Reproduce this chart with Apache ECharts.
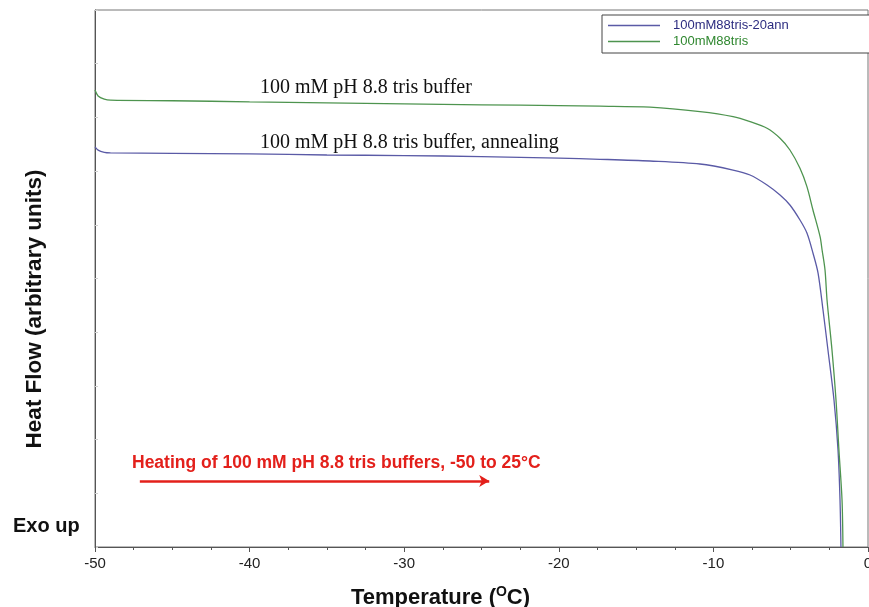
<!DOCTYPE html>
<html>
<head>
<meta charset="utf-8">
<script src="https://cdn.jsdelivr.net/npm/echarts@6/dist/echarts.min.js"></script>
<style>
html,body{margin:0;padding:0;background:#fff;}
#chart{width:869px;height:607px;}
</style>
</head>
<body>
<div id="chart"></div>
<script>
// DSC heating scans of 100 mM pH 8.8 tris buffer (heat flow, arbitrary units)
var seriesNames = ['100mM88tris-20ann', '100mM88tris'];

// annealed sample
var annealedTemp = [-50, -49.8, -49.4, -49.0, -45, -40, -35, -30, -25, -20, -17.34, -14.1, -10.87, -8.73, -7.63, -6.53, -5.69, -5.05, -4.40, -3.95, -3.56, -3.23, -2.91, -2.59, -2.20, -1.94, -1.81, -1.75];
var annealedFlow = [74.5, 73.9, 73.5, 73.4, 73.3, 73.2, 73.0, 72.9, 72.7, 72.4, 72.2, 71.88, 71.32, 70.2, 69.27, 67.41, 65.55, 63.69, 60.89, 58.47, 54.75, 51.02, 44.13, 36.69, 27.37, 18.06, 8.75, 0];

// non-annealed sample
var plainTemp = [-50, -49.8, -49.4, -49.0, -45, -40, -35, -30, -25, -20, -17.34, -14.1, -10.87, -8.73, -7.63, -6.53, -5.69, -5.05, -4.40, -3.95, -3.56, -3.10, -2.97, -2.78, -2.65, -2.33, -2.07, -1.88, -1.68, -1.62];
var plainFlow = [85.1, 84.0, 83.4, 83.2, 83.1, 82.9, 82.7, 82.5, 82.35, 82.2, 82.1, 81.9, 81.06, 80.13, 79.2, 77.97, 76.11, 73.93, 70.52, 67.1, 62.76, 57.78, 55.31, 51.58, 46.0, 36.69, 27.37, 18.06, 8.75, 0];

// heating direction arrow (temperature span, heat-flow level)
var arrowTemp = [-47.1, -24.5];
var arrowLevel = 12.3;

var xTicks = [-50, -40, -30, -20, -10, 0];

function zip(a, b) { return a.map(function (v, i) { return [v, b[i]]; }); }

var sans = '"Liberation Sans", Arial, sans-serif';
var serif = '"Liberation Serif", "Times New Roman", serif';

var chart = echarts.init(document.getElementById('chart'), null, {renderer: 'canvas'});
chart.setOption({
  animation: false,
  backgroundColor: '#ffffff',
  grid: {left: 95, right: 1, top: 10, bottom: 60, outerBoundsMode: 'none', containLabel: false,
    show: true, borderColor: '#777', borderWidth: 1},
  legend: {
    left: 602, top: 15,
    orient: 'vertical',
    icon: 'rect',
    itemWidth: 52, itemHeight: 1.3, itemGap: 1,
    padding: [3, 120, 4, 6],
    borderColor: '#444', borderWidth: 1,
    backgroundColor: '#fff',
    textStyle: {fontFamily: sans, fontSize: 13, padding: [0, 0, 0, 8], lineHeight: 15},
    data: [
      {name: seriesNames[0], textStyle: {color: '#2c2c80'}},
      {name: seriesNames[1], textStyle: {color: '#2f872f'}}
    ]
  },
  xAxis: {
    type: 'value', min: -50, max: 0, interval: 10,
    name: 'Temperature ({s|O}C)',
    nameLocation: 'middle', nameGap: 38,
    nameTextStyle: {
      fontFamily: sans, fontSize: 22, fontWeight: 'bold', color: '#111',
      padding: [0, 82, 0, 0],
      rich: {s: {fontFamily: sans, fontSize: 14, fontWeight: 'bold', color: '#111', verticalAlign: 'top', padding: [0, 0, 11, 0]}}
    },
    axisLine: {onZero: false, lineStyle: {color: '#555', width: 1}},
    axisTick: {length: 5, lineStyle: {color: '#555'}},
    minorTick: {show: true, splitNumber: 4, length: 3, lineStyle: {color: '#555'}},
    splitLine: {show: false},
    axisLabel: {fontFamily: sans, fontSize: 15, color: '#222', margin: 9,
      formatter: function (v) { return xTicks.indexOf(v) >= 0 ? String(v) : ''; }}
  },
  yAxis: {
    type: 'value', min: 0, max: 100, interval: 10,
    axisLine: {onZero: false, lineStyle: {color: '#555', width: 1}},
    axisTick: {inside: true, length: 3, lineStyle: {color: '#d0d0d0'}},
    splitLine: {show: false},
    axisLabel: {show: false}
  },
  series: [
    {
      name: seriesNames[0], type: 'line', data: zip(annealedTemp, annealedFlow),
      symbol: 'none', smooth: 0.3, smoothConstraint: false,
      lineStyle: {color: '#5a5aa6', width: 1.3}, itemStyle: {color: '#5a5aa6'},
      z: 3
    },
    {
      name: seriesNames[1], type: 'line', data: zip(plainTemp, plainFlow),
      symbol: 'none', smooth: 0.3, smoothConstraint: false,
      lineStyle: {color: '#4e944f', width: 1.3}, itemStyle: {color: '#4e944f'},
      z: 3,
      markLine: {
        silent: true, animation: false,
        symbol: ['none', 'arrow'], symbolSize: [9, 10],
        label: {show: false},
        lineStyle: {color: '#e3201b', width: 2.5, type: 'solid'},
        data: [[{coord: [arrowTemp[0], arrowLevel]}, {coord: [arrowTemp[1], arrowLevel]}]]
      }
    }
  ],
  graphic: [
    {type: 'text', left: 260, top: 78, style: {text: '100 mM pH 8.8 tris buffer', font: '20px ' + serif, fill: '#111'}},
    {type: 'text', left: 260, top: 133, style: {text: '100 mM pH 8.8 tris buffer, annealing', font: '20px ' + serif, fill: '#111'}},
    {type: 'text', left: 132, top: 454, style: {text: 'Heating of 100 mM pH 8.8 tris buffers, -50 to 25\u00B0C', font: 'bold 17.5px ' + sans, fill: '#e3201b'}},
    {type: 'text', left: 13, top: 516, style: {text: 'Exo up', font: 'bold 20px ' + sans, fill: '#111'}},
    {type: 'text', x: 35, y: 309, rotation: Math.PI / 2,
      style: {text: 'Heat Flow (arbitrary units)', font: 'bold 22.5px ' + sans, fill: '#111', align: 'center', verticalAlign: 'middle'}}
  ]
});
</script>
</body>
</html>
